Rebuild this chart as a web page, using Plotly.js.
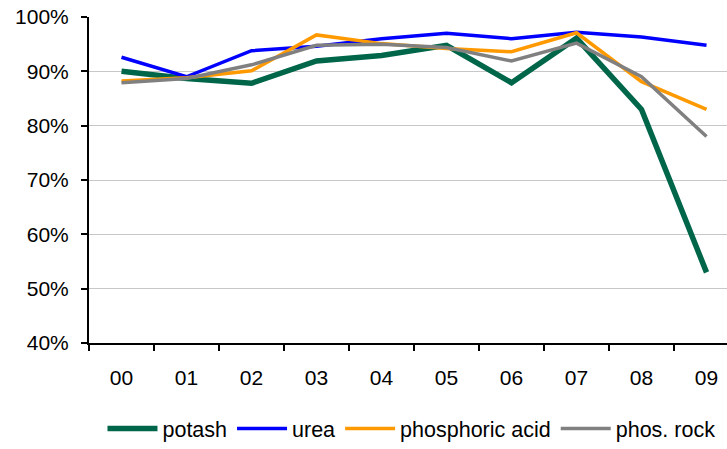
<!DOCTYPE html>
<html>
<head>
<meta charset="utf-8">
<script src="https://cdn.plot.ly/plotly-3.0.1.min.js"></script>
<style>html,body{margin:0;padding:0;background:#fff;}#chart{width:727px;height:449px;}</style>
</head>
<body>
<div id="chart"></div>
<script>
const years = ["00","01","02","03","04","05","06","07","08","09"];
const potash = [90.0, 88.7, 87.8, 91.9, 92.9, 94.8, 87.9, 96.1, 83.0, 53.0];
const urea = [92.6, 89.0, 93.8, 94.6, 96.0, 97.0, 96.0, 97.2, 96.3, 94.8];
const phosAcid = [88.2, 88.8, 90.1, 96.7, 95.1, 94.2, 93.6, 97.1, 88.1, 83.0];
const phosRock = [87.9, 88.7, 91.2, 94.8, 95.0, 94.4, 91.9, 95.2, 89.0, 78.0];

const seriesNames = ["potash", "urea", "phosphoric acid", "phos. rock"];
const seriesData = [potash, urea, phosAcid, phosRock];
const colors = ["#006649", "#0000ff", "#ff9900", "#808080"];
const widths = [5.5, 3.5, 3.5, 3.5];

const traces = seriesData.map((vals, i) => ({
  x: years, y: vals, name: seriesNames[i], type: "scatter", mode: "lines",
  line: {color: colors[i], width: widths[i]}
}));

const font = {family: "Liberation Sans, Arial, sans-serif", size: 21, color: "#000"};
const legendFont = {family: "Liberation Sans, Arial, sans-serif", size: 21.5, color: "#000"};

const layout = {
  width: 727, height: 449,
  margin: {l: 89, r: 0, t: 17, b: 106},
  paper_bgcolor: "#fff", plot_bgcolor: "#fff",
  font: font,
  showlegend: true,
  legend: {orientation: "h", xref: "container", x: 0.566, xanchor: "center",
           yref: "container", y: 0, yanchor: "bottom", font: legendFont,
           itemwidth: 50, tracegroupgap: 0, borderwidth: 0},
  xaxis: {type: "category", range: [-0.5, 9.315], showgrid: false,
          showline: true, linecolor: "#000", linewidth: 2,
          ticks: "outside", tickson: "boundaries", ticklen: 6, tickwidth: 2, tickcolor: "#000",
          ticklabelstandoff: 15, zeroline: false, fixedrange: true},
  yaxis: {range: [40, 100], dtick: 10, ticksuffix: "%", showgrid: true,
          gridcolor: "#c8c8c8", gridwidth: 1,
          showline: true, linecolor: "#000", linewidth: 2,
          ticks: "outside", ticklen: 6, tickwidth: 2, tickcolor: "#000",
          ticklabelstandoff: 8, zeroline: false, fixedrange: true}
};

Plotly.newPlot("chart", traces, layout, {displayModeBar: false, staticPlot: true});
</script>
</body>
</html>
